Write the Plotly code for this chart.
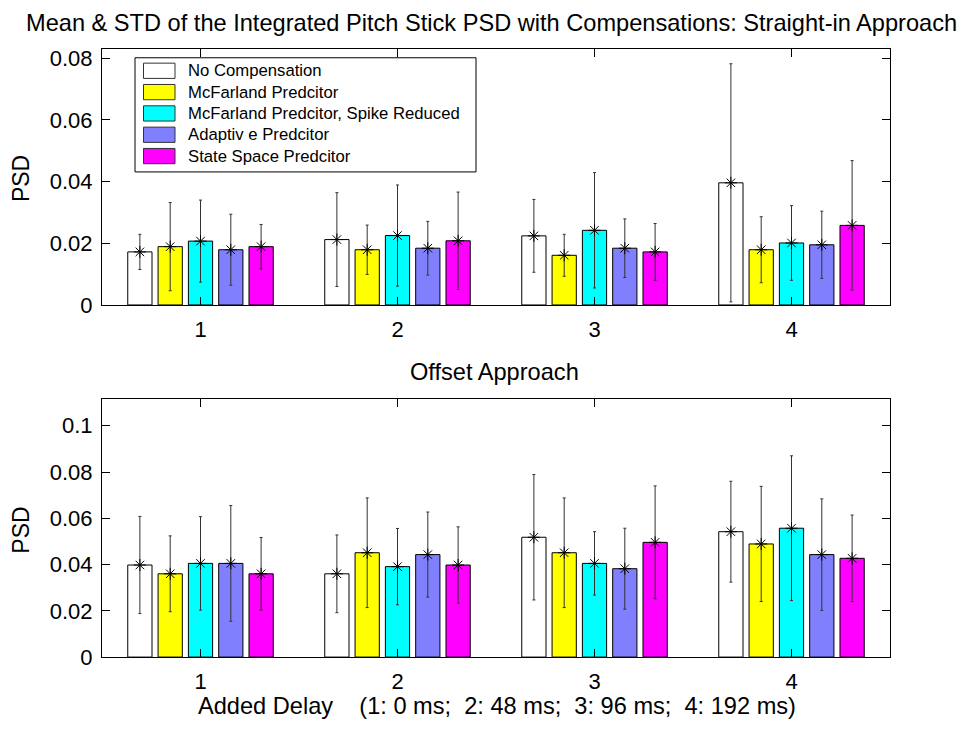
import plotly.graph_objects as go

W, H = 966, 732

# ---------------- data ----------------
groups = [1, 2, 3, 4]
series_names = [
    "No Compensation",
    "McFarland Predcitor",
    "McFarland Predcitor, Spike Reduced",
    "Adaptiv e Predcitor",
    "State Space Predcitor",
]
series_colors = ["#FFFFFF", "#FFFF00", "#00FFFF", "#8080FF", "#FF00FF"]

# Straight-in approach (top)
straight_mean = [
    [0.0172, 0.0212, 0.0224, 0.0396],
    [0.0189, 0.0179, 0.0161, 0.0179],
    [0.0207, 0.0225, 0.0242, 0.0201],
    [0.0179, 0.0184, 0.0184, 0.0195],
    [0.0189, 0.0208, 0.0172, 0.0258],
]
straight_std = [
    [0.0057, 0.0152, 0.0118, 0.0386],
    [0.0143, 0.0080, 0.0068, 0.0107],
    [0.0133, 0.0164, 0.0187, 0.0121],
    [0.0115, 0.0087, 0.0095, 0.0109],
    [0.0072, 0.0158, 0.0092, 0.0210],
]
# Offset approach (bottom)
offset_mean = [
    [0.0398, 0.0360, 0.0518, 0.0542],
    [0.0360, 0.0451, 0.0451, 0.0489],
    [0.0405, 0.0391, 0.0405, 0.0557],
    [0.0405, 0.0443, 0.0382, 0.0443],
    [0.0360, 0.0398, 0.0496, 0.0427],
]
offset_std = [
    [0.0210, 0.0168, 0.0271, 0.0218],
    [0.0164, 0.0237, 0.0237, 0.0249],
    [0.0202, 0.0165, 0.0137, 0.0313],
    [0.0250, 0.0184, 0.0175, 0.0241],
    [0.0157, 0.0165, 0.0244, 0.0187],
]

top_yticks = [0, 0.02, 0.04, 0.06, 0.08]
top_yticklabels = ["0", "0.02", "0.04", "0.06", "0.08"]
bot_yticks = [0, 0.02, 0.04, 0.06, 0.08, 0.1]
bot_yticklabels = ["0", "0.02", "0.04", "0.06", "0.08", "0.1"]
xticklabels = ["1", "2", "3", "4"]

title_top = "Mean & STD of the Integrated Pitch Stick PSD with Compensations: Straight-in Approach"
title_bot = "Offset Approach"
ylabel = "PSD"
xlabel = "Added Delay    (1: 0 ms;  2: 48 ms;  3: 96 ms;  4: 192 ms)"

# ---------------- layout helpers ----------------
FONT = "Liberation Sans, Arial, sans-serif"


def px_x(p):
    return p / W


def px_y(p):
    return 1 - p / H


n = len(series_names)
group_width = min(0.8, n / (n + 1.5))
slot = group_width / n
bar_width = slot * 0.8
offsets = [(i - (n - 1) / 2) * slot for i in range(n)]

fig = go.Figure()

panels = [
    (straight_mean, straight_std, "x", "y"),
    (offset_mean, offset_std, "x2", "y2"),
]
for means, stds, xa, ya in panels:
    for i in range(n):
        xs = [g + offsets[i] for g in groups]
        fig.add_trace(go.Bar(
            x=xs, y=means[i], width=bar_width,
            marker=dict(color=series_colors[i], line=dict(color="black", width=1)),
            xaxis=xa, yaxis=ya, showlegend=False, hoverinfo="skip",
        ))
    for i in range(n):
        xs = [g + offsets[i] for g in groups]
        fig.add_trace(go.Scatter(
            x=xs, y=means[i], mode="markers",
            marker=dict(symbol="asterisk-open", size=10, color="black",
                        line=dict(color="black", width=1)),
            error_y=dict(type="data", array=stds[i], visible=True,
                         color="#333333", thickness=1, width=1.5),
            xaxis=xa, yaxis=ya, showlegend=False, hoverinfo="skip",
        ))

axis_common = dict(
    showline=True, linecolor="black", linewidth=1, mirror="ticks",
    ticks="inside", ticklen=8, tickcolor="black", tickwidth=1,
    showgrid=False, zeroline=False,
    tickfont=dict(family=FONT, size=22, color="black"),
)

x_dom = [px_x(102), px_x(890)]
fig.update_layout(
    width=W, height=H,
    margin=dict(l=0, r=0, t=0, b=0),
    paper_bgcolor="white", plot_bgcolor="white",
    barmode="overlay",
    xaxis=dict(domain=x_dom, range=[0.5, 4.5], tickvals=groups, ticktext=xticklabels,
               anchor="y", ticklabelstandoff=5, **axis_common),
    yaxis=dict(domain=[px_y(308.7), px_y(47.3)], range=[0, 0.0829],
               tickvals=top_yticks, ticktext=top_yticklabels, anchor="x",
               ticklabelstandoff=4, **axis_common),
    xaxis2=dict(domain=x_dom, range=[0.5, 4.5], tickvals=groups, ticktext=xticklabels,
                anchor="y2", ticklabelstandoff=5, **axis_common),
    yaxis2=dict(domain=[px_y(668.7), px_y(405)], range=[0, 0.1115],
                tickvals=bot_yticks, ticktext=bot_yticklabels, anchor="x2",
                ticklabelstandoff=4, **axis_common),
)

annotations = []
shapes = []


def text(s, x, y, size, xanchor="center", yanchor="middle", angle=0):
    annotations.append(dict(
        text=s, x=px_x(x), y=px_y(y), xref="paper", yref="paper",
        xanchor=xanchor, yanchor=yanchor, showarrow=False, textangle=angle,
        font=dict(family=FONT, size=size, color="black"),
    ))


text(title_top, 491, 20, 23.6)
text(title_bot, 494, 377, 23.6)
text(ylabel, 21, 180, 23, angle=-90)
text(ylabel, 21, 539.5, 23, angle=-90)
text(xlabel, 496.5, 719, 23.6)

# legend box
shapes.append(dict(type="rect", xref="paper", yref="paper",
                   x0=px_x(135), x1=px_x(476), y0=px_y(172.7), y1=px_y(56),
                   line=dict(color="black", width=1), fillcolor="white", layer="above"))
row0, row_step = 69.3, 21.8
for i, (name, col) in enumerate(zip(series_names, series_colors)):
    ry = row0 + i * row_step
    shapes.append(dict(type="rect", xref="paper", yref="paper",
                       x0=px_x(143.5), x1=px_x(175), y0=px_y(ry + 7.8), y1=px_y(ry - 7.8),
                       line=dict(color="#333333", width=1), fillcolor=col, layer="above"))
    text(name, 186, ry, 16.7, xanchor="left")

fig.update_layout(annotations=annotations, shapes=shapes)

fig.write_html("out.html")
